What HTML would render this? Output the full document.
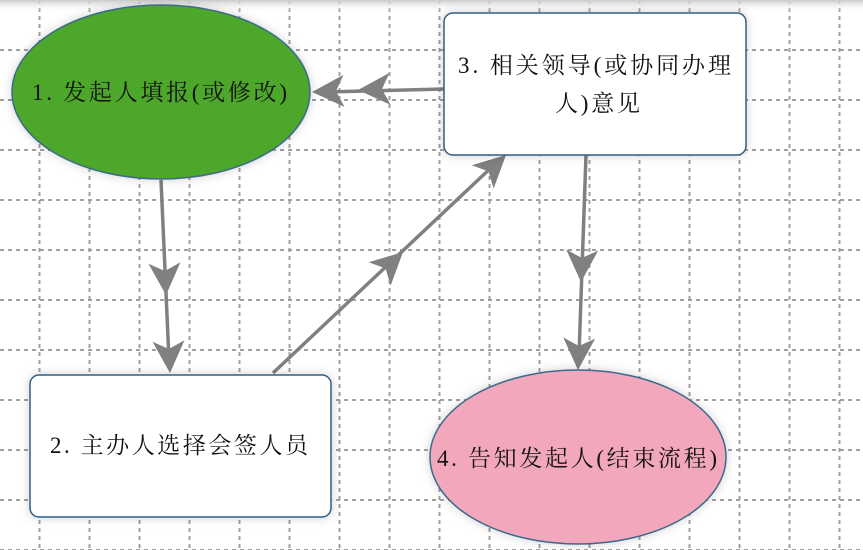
<!DOCTYPE html>
<html><head><meta charset="utf-8"><style>
html,body{margin:0;padding:0;background:#fff;}
svg{display:block;}
text{font-family:"Liberation Serif","Noto Serif CJK SC",serif;font-size:23px;fill:#111;}
</style></head><body>
<svg width="863" height="550" viewBox="0 0 863 550" xmlns="http://www.w3.org/2000/svg">
<defs>
<pattern id="gv" x="38.5" y="0" width="50" height="8" patternUnits="userSpaceOnUse"><rect x="0" y="0" width="2" height="4" fill="#a0a0a0"/></pattern>
<pattern id="gh" x="0" y="49" width="8" height="50" patternUnits="userSpaceOnUse"><rect x="0" y="0" width="4" height="2" fill="#a0a0a0"/></pattern>
<linearGradient id="top" x1="0" y1="0" x2="0" y2="1"><stop offset="0" stop-color="#ccc"/><stop offset="1" stop-color="#fff" stop-opacity="0"/></linearGradient>
<filter id="sh" x="-20%" y="-20%" width="140%" height="140%"><feDropShadow dx="0" dy="0" stdDeviation="5" flood-color="#000" flood-opacity="0.18"/></filter>
<path id="ah" d="M0,0 L-32,-16 L-24,0 L-32,16 Z" fill="#808080"/>
</defs>
<rect width="863" height="550" fill="url(#gv)"/>
<rect width="863" height="550" fill="url(#gh)"/>
<rect width="863" height="12" fill="url(#top)"/>

<g stroke="#808080" stroke-width="3.5" fill="none">
<line x1="161" y1="180" x2="169" y2="360"/>
<line x1="444" y1="89" x2="325" y2="92"/>
<line x1="273" y1="373" x2="495" y2="164"/>
<line x1="586" y1="155" x2="579" y2="355"/>
</g>
<use href="#ah" transform="translate(166,295) rotate(87.3)"/>
<use href="#ah" transform="translate(170,373) rotate(87.3)"/>
<use href="#ah" transform="translate(358,90) rotate(178)"/>
<use href="#ah" transform="translate(312,92) rotate(178)"/>
<use href="#ah" transform="translate(403,252) rotate(-43.2)"/>
<use href="#ah" transform="translate(506,155) rotate(-43.2)"/>
<use href="#ah" transform="translate(581,282) rotate(92.1)"/>
<use href="#ah" transform="translate(578,370) rotate(92.1)"/>

<ellipse cx="161" cy="92" rx="149" ry="87" fill="#4ea72a" stroke="#3d6a8a" stroke-width="1.5" filter="url(#sh)"/>
<text x="32" y="100" textLength="255" lengthAdjust="spacing">1. 发起人填报(或修改)</text>

<rect x="444" y="13" width="302" height="142" rx="9" fill="#fff" stroke="#2f5f86" stroke-width="1.5" filter="url(#sh)"/>
<text x="458" y="73" textLength="273" lengthAdjust="spacing">3. 相关领导(或协同办理</text>
<text x="555" y="111" textLength="85" lengthAdjust="spacing">人)意见</text>

<rect x="30" y="375" width="301" height="142" rx="9" fill="#fff" stroke="#2f5f86" stroke-width="1.5" filter="url(#sh)"/>
<text x="50" y="453" textLength="258" lengthAdjust="spacing">2. 主办人选择会签人员</text>

<ellipse cx="578" cy="457" rx="148" ry="87" fill="#f2a7bc" stroke="#3d6a8a" stroke-width="1.5" filter="url(#sh)"/>
<text x="437" y="466" textLength="280" lengthAdjust="spacing">4. 告知发起人(结束流程)</text>
</svg>
</body></html>
